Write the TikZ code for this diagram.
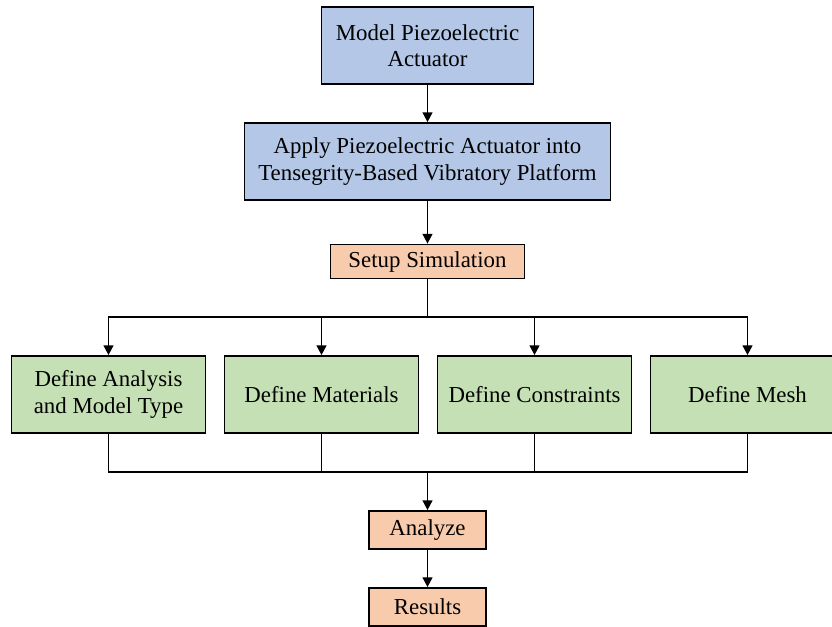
\documentclass[tikz,border=0pt]{standalone}
\usepackage{fontspec}
\setmainfont{Liberation Serif}
\usepackage{tikz}
\usetikzlibrary{arrows.meta}
\definecolor{stepblue}{HTML}{B4C7E7}
\definecolor{steporange}{HTML}{F8CBAD}
\definecolor{stepgreen}{HTML}{C5E0B4}
\tikzset{
>={Triangle[length=5.5pt,width=5.5pt]}, % small filled arrow heads
every node/.style={font=\fontsize{13}{15}\selectfont, align=center},
box/.style={draw, line width=1pt, inner sep=2pt}, % common frame of each box
bluebox/.style={box, fill=stepblue, minimum height=1.54cm},
orangebox/.style={box, fill=steporange, minimum width=2.34cm, minimum height=0.76cm},
greenbox/.style={box, fill=stepgreen, minimum width=3.88cm, minimum height=1.54cm},
line/.style={line width=1pt},
}
\begin{document}
\begin{tikzpicture}
		\useasboundingbox (0,0) rectangle (16.64,-12.52);
		\node[bluebox, minimum width=4.24cm] (model) at (8.55,-0.91) {Model Piezoelectric\\Actuator};
		\node[bluebox, minimum width=7.32cm, below of=model, node distance=2.32cm] (apply) {Apply Piezoelectric Actuator into\\Tensegrity-Based Vibratory Platform};
		\node[orangebox, minimum width=3.88cm, minimum height=0.68cm, below of=apply, node distance=2cm] (setup) {Setup Simulation};
		\node[greenbox] (analysis) at (2.17,-7.89) {Define Analysis\\and Model Type};
		\node[greenbox, right of=analysis, node distance=4.26cm] (materials) {Define Materials};
		\node[greenbox, right of=materials, node distance=4.26cm] (constraints) {Define Constraints};
		\node[greenbox, right of=constraints, node distance=4.26cm] (mesh) {Define Mesh};
		\node[orangebox] (analyze) at (8.55,-10.6) {Analyze};
		\node[orangebox, below of=analyze, node distance=1.54cm] (results) {Results};
		\coordinate (split) at (8.55,-6.34);
		\coordinate (join) at (8.55,-9.44);
		\draw[line, ->] (model) -- (apply);
		\draw[line, ->] (apply) -- (setup);
		\draw[line] (setup) -- (split);
		\draw[line, ->] (split) -| (analysis);
		\draw[line, ->] (split) -| (materials);
		\draw[line, ->] (split) -| (constraints);
		\draw[line, ->] (split) -| (mesh);
		\draw[line] (analysis) |- (join);
		\draw[line] (materials) |- (join);
		\draw[line] (constraints) |- (join);
		\draw[line] (mesh) |- (join);
		\draw[line, ->] (join) -- (analyze);
		\draw[line, ->] (analyze) -- (results);
	\end{tikzpicture}
\end{document}
